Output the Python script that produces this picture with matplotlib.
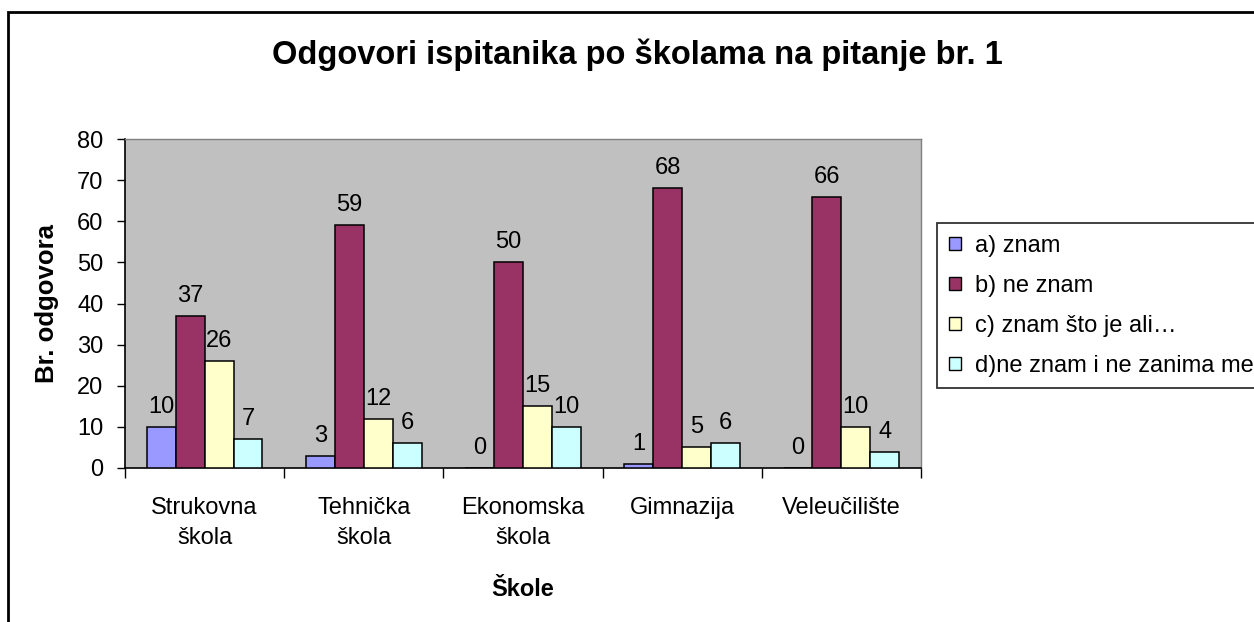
import numpy as np
import matplotlib
matplotlib.use("Agg")
from matplotlib import pyplot as plt
from matplotlib.patches import Rectangle

plt.rcParams['font.family'] = ['Liberation Sans', 'DejaVu Sans']

# podaci s grafa
skole = ["Strukovna\nškola", "Tehnička\nškola", "Ekonomska\nškola", "Gimnazija", "Veleučilište"]
odg_a = [10, 3, 0, 1, 0]
odg_b = [37, 59, 50, 68, 66]
odg_c = [26, 12, 15, 5, 10]
odg_d = [7, 6, 10, 6, 4]
nazivi = ["a) znam", "b) ne znam", "c) znam što je ali…", "d)ne znam i ne zanima me"]
boje = ["#9999FF", "#993366", "#FFFFCC", "#CCFFFF"]

W, H = 1254, 622
fig = plt.figure(figsize=(W / 100, H / 100), dpi=100)
fig.patch.set_facecolor("white")

# plot area u pikselima
x0, x1, y0, y1 = 125, 921, 139, 468
ax = fig.add_axes([x0 / W, 1 - y1 / H, (x1 - x0) / W, (y1 - y0) / H])
ax.set_facecolor("#C0C0C0")

serije = [odg_a, odg_b, odg_c, odg_d]
n = len(serije)
sirina = 1 / (n + 1.5)
pomak = 0.75 * sirina
x = np.arange(len(skole))

for j, (vals, naziv, boja) in enumerate(zip(serije, nazivi, boje)):
    pos = x + pomak + (j + 0.5) * sirina
    bars = ax.bar(pos, vals, width=sirina, color=boja, edgecolor="black",
                  linewidth=1.1, label=naziv, zorder=3)
    ax.bar_label(bars, labels=[str(v) for v in vals], padding=6.5, fontsize=17)

ax.set_xlim(0, len(skole))
ax.set_ylim(0, 80)
ax.set_yticks(np.arange(0, 81, 10))
ax.tick_params(axis="y", labelsize=17, length=6, width=1, pad=9.5, direction="out")

ax.set_xticks(np.arange(0, len(skole) + 1))
ax.set_xticklabels([])
ax.tick_params(axis="x", which="major", length=7, width=1, direction="out")
ax.set_xticks(x + 0.5, minor=True)
ax.set_xticklabels(skole, minor=True, fontsize=17, linespacing=1.45)
ax.tick_params(axis="x", which="minor", length=0, pad=21)

for s in ["left", "bottom"]:
    ax.spines[s].set_color("black")
    ax.spines[s].set_linewidth(1.2)
for s in ["top", "right"]:
    ax.spines[s].set_color("#808080")
    ax.spines[s].set_linewidth(1.0)

ax.set_xlabel("Škole", fontsize=17, fontweight="bold", va="center")
ax.xaxis.set_label_coords(0.5, -0.37)
ax.set_ylabel("Br. odgovora", fontsize=18.5, fontweight="bold", va="center")
ax.yaxis.set_label_coords(-0.098, 0.5)

fig.text(637 / W, 1 - 55 / H, "Odgovori ispitanika po školama na pitanje br. 1",
         ha="center", va="center", fontsize=23.5, fontweight="bold")

leg = fig.legend(loc="upper left", bbox_to_anchor=(937 / W, 1 - 223 / H),
                 fontsize=17, frameon=True, fancybox=False, edgecolor="black",
                 handlelength=0.5, handleheight=0.5, handletextpad=0.6,
                 labelspacing=0.76, borderpad=0.5, borderaxespad=0)
leg.get_frame().set_linewidth(1.3)
for h in leg.legend_handles:
    h.set_linewidth(1.0)

# okvir cijelog grafikona
fig.add_artist(Rectangle((8 / W, -0.1), 2, 1 - 12 / H + 0.1, transform=fig.transFigure,
                         fill=False, edgecolor="black", linewidth=2))

fig.savefig("out.png", dpi=100, facecolor="white")
